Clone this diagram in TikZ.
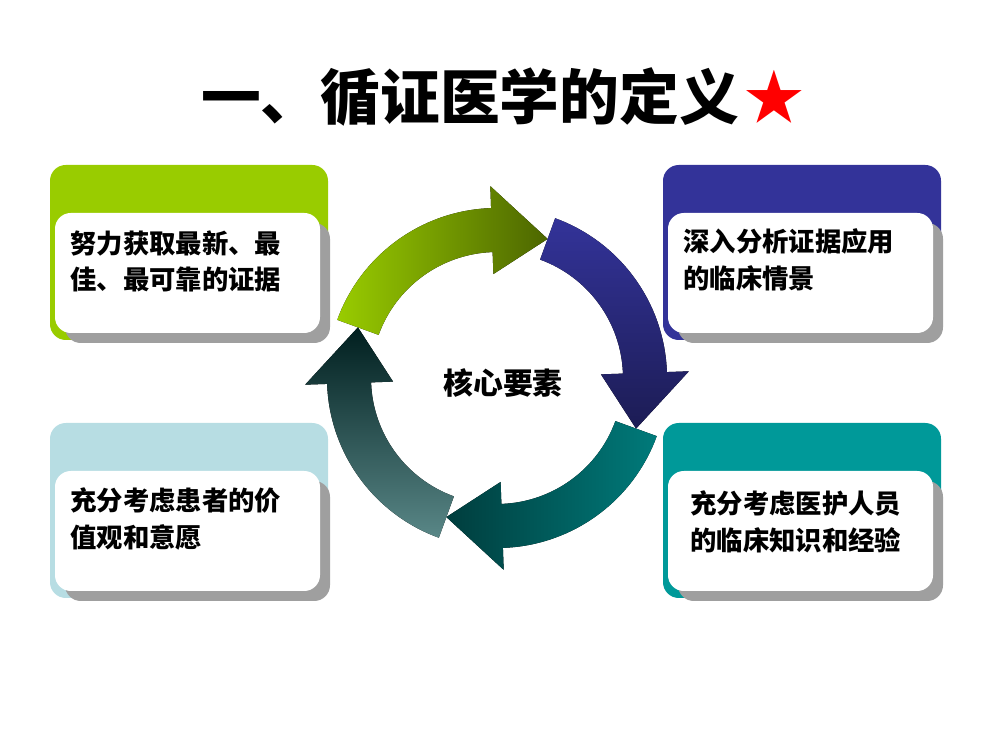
\documentclass[tikz,border=0pt]{standalone}
\usepackage{fontspec}
\newfontfamily\cjk{Noto Sans CJK SC}
\usetikzlibrary{calc,positioning}
\definecolor{lime}{HTML}{99CC00}
\definecolor{navy}{HTML}{333399}
\definecolor{pale}{HTML}{B7DDE3}
\definecolor{teal}{HTML}{009999}
\tikzset{
  card/.style={rounded corners=9pt},
  words/.style={anchor=north west, align=left, inner sep=0pt,
    font=\cjk\bfseries\fontsize{15}{21}\selectfont},
}
% ring arrow: start angle, head-base angle, shading
\newcommand{\ringarrow}[3]{%
  \fill[#3] (#1:170) arc[start angle=#1,end angle=#2,radius=170]
    -- (#2:192) -- ($(#2-22:148)$) -- (#2:104) -- (#2:126)
    arc[start angle=#2,end angle=#1,radius=126] -- cycle;}
\begin{document}
\begin{tikzpicture}[x=0.02cm,y=0.02cm]
    \useasboundingbox (0,0) rectangle (1000,750);

    % Title
    \node (title) at (470,653) {\cjk\bfseries\fontsize{34}{36}\selectfont 一、循证医学的定义};
    \node[text=red, right=-4pt of title] (star) {\cjk\fontsize{34}{36}\selectfont ★};

    % Cards
    \foreach \x/\y/\c in {50/410/lime, 663/410/navy, 50/152/pale, 663/152/teal} {
        \fill[\c, card] (\x,\y) rectangle ++(278,175);
        \fill[gray!75, card] (\x+15,\y-3) rectangle ++(265,120);
        \fill[white, card] (\x+5,\y+7) rectangle ++(265,120);
    }
    \node[words] (evidence) at (70,520) {努力获取最新、最\\佳、最可靠的证据};
    \node[words] (scene) at (683,522) {深入分析证据应用\\的临床情景};
    \node[words] (values) at (70,263) {充分考虑患者的价\\值观和意愿};
    \node[words] (skill) at (690,260) {充分考虑医护人员\\的临床知识和经验};

    % Cycle
    \begin{scope}[shift={(497,372)}]
        \ringarrow{160}{92}{left color=lime, right color=lime!50!black}
        \ringarrow{70}{2}{top color=navy, bottom color=navy!55!black}
        \ringarrow{-20}{-88}{right color=teal!80!black, left color=teal!40!black}
        \ringarrow{-110}{-178}{bottom color=gray!70!teal, top color=black!80!teal}
    \end{scope}
    \node (core) at (503,367) {\cjk\bfseries\fontsize{17}{20}\selectfont 核心要素};
\end{tikzpicture}
\end{document}
